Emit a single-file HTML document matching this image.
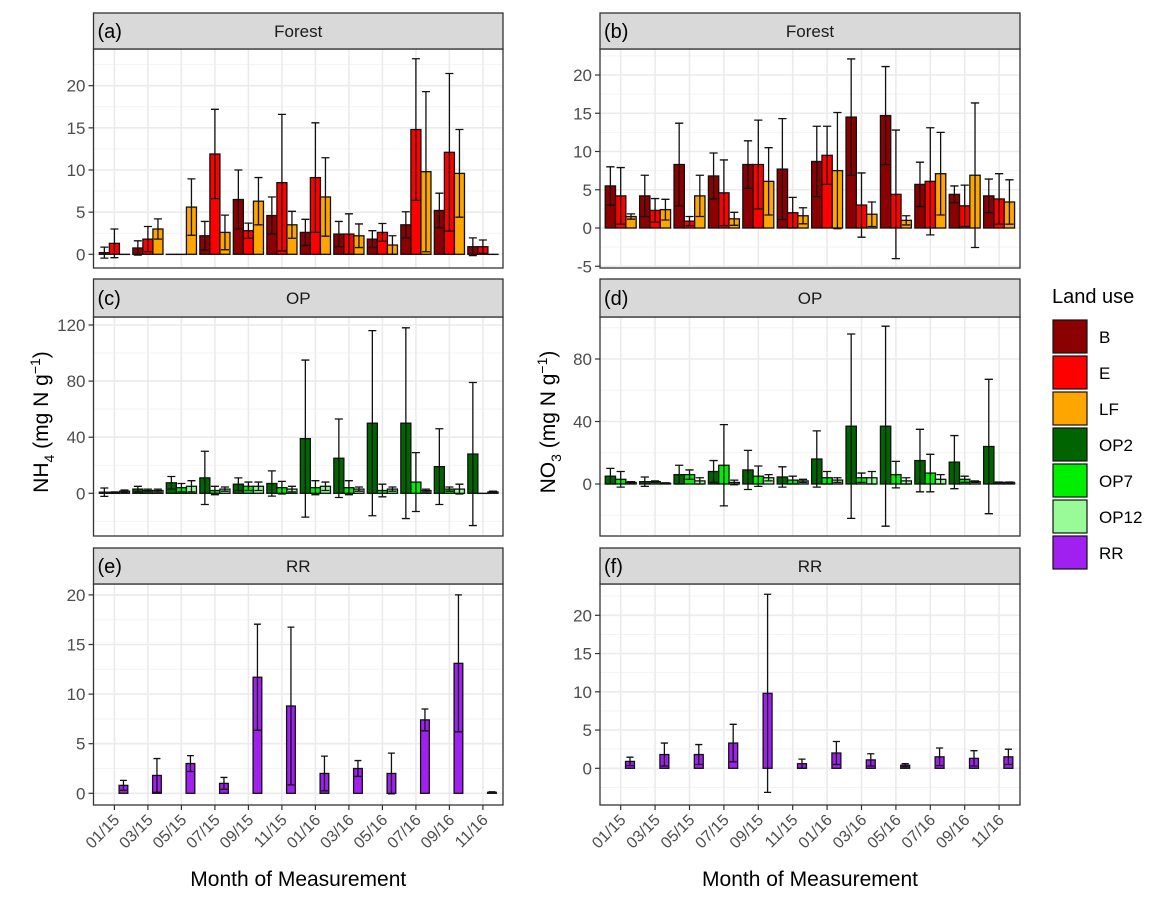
<!DOCTYPE html>
<html><head><meta charset="utf-8"><style>
html,body{margin:0;padding:0;background:#fff;}
svg{display:block;font-family:"Liberation Sans",Arial,sans-serif;}
</style></head><body>
<svg id="chart" width="1160" height="898" viewBox="0 0 1160 898" xmlns="http://www.w3.org/2000/svg"></svg>
<script>
const months = ["01/15","03/15","05/15","07/15","09/15","11/15","01/16","03/16","05/16","07/16","09/16","11/16"];
const colorB="#8b0000", colorE="#ff0000", colorLF="#ffa500", colorOP2="#006400", colorOP7="#00ee00", colorOP12="#98fb98", colorRR="#a020f0";
const legendKeys=["B","E","LF","OP2","OP7","OP12","RR"];
const legendColors=[colorB,colorE,colorLF,colorOP2,colorOP7,colorOP12,colorRR];

// (a) Forest NH4
const aB_mean=[0.2,0.75,0,2.2,6.5,4.6,2.6,2.4,1.8,3.5,5.2,0.9];
const aB_sd=[0.65,0.85,0,1.7,3.5,2.2,1.55,1.5,1.0,1.55,2.05,1.05];
const aE_mean=[1.3,1.8,0,11.9,2.8,8.5,9.1,2.4,2.6,14.8,12.1,0.9];
const aE_sd=[1.7,1.5,0,5.3,0.9,8.1,6.5,2.4,1.05,8.4,9.35,0.8];
const aLF_mean=[0,3.0,5.6,2.6,6.3,3.5,6.8,2.2,1.1,9.8,9.6,0];
const aLF_sd=[0,1.2,3.35,2.05,2.8,1.6,4.65,1.4,1.1,9.5,5.2,0];
// (b) Forest NO3
const bB_mean=[5.5,4.2,8.3,6.8,8.3,7.7,8.7,14.5,14.7,5.7,4.4,4.2];
const bB_sd=[2.5,2.7,5.4,3.0,3.1,6.6,4.6,7.6,6.4,2.9,1.1,2.2];
const bE_mean=[4.2,2.3,0.9,4.6,8.3,2.0,9.5,3.0,4.4,6.1,2.9,3.8];
const bE_sd=[3.7,1.55,0.6,4.3,5.8,2.0,3.8,4.2,8.4,7.0,2.7,3.3];
const bLF_mean=[1.5,2.4,4.2,1.2,6.1,1.6,7.5,1.8,1.0,7.1,6.9,3.4];
const bLF_sd=[0.35,1.35,2.7,0.85,4.4,1.05,7.6,1.6,0.6,5.4,9.45,2.9];
// (c) OP NH4
const cOP2_mean=[0.8,3,7.5,11,6.5,7,39,25,50,50,19,28];
const cOP2_sd=[3,2,4.5,19,4.5,9,56,28,66,68,27,51];
const cOP7_mean=[0.5,2,4,2,5,4,4,4,2,8,3,0];
const cOP7_sd=[0.5,1,3,3,3,4.5,5,5,4.5,21,1.5,0];
const cOP12_mean=[1.5,2,5,3,5,3,5,3,3,2,3,1];
const cOP12_sd=[0.8,1,4,1.5,3,2,3,1.5,1.5,1,3.5,0.5];
// (d) OP NO3
const dOP2_mean=[5,1.5,6,8,9,4.5,16,37,37,15,14,24];
const dOP2_sd=[5,3,6,7,12.5,6.5,18,59,64,20,17,43];
const dOP7_mean=[3,1.5,6,12,5,2.5,4,4,6,7,3,1];
const dOP7_sd=[5,0.5,3,26,6.5,2.5,4,3,8.5,12,2,0.3];
const dOP12_mean=[1,0.5,2,1,4,2,2.5,4,2,3,1.5,1];
const dOP12_sd=[0.5,0.3,2,1.5,2,1,1.5,4,2,3,0.5,0.3];
// (e) RR NH4
const eRR_mean=[0.8,1.8,3.0,1.0,11.7,8.8,2.0,2.5,2.0,7.4,13.1,0.1];
const eRR_sd=[0.5,1.7,0.8,0.6,5.35,7.95,1.75,0.8,2.05,1.1,6.9,0.05];
// (f) RR NO3
const fRR_mean=[0.9,1.8,1.8,3.3,9.8,0.6,2.0,1.1,0.4,1.5,1.3,1.5];
const fRR_sd=[0.55,1.5,1.3,2.45,12.95,0.6,1.5,0.8,0.2,1.15,1.0,1.0];

const ticksA=[0,5,10,15,20], ticksB=[-5,0,5,10,15,20], ticksC=[0,40,80,120], ticksD=[0,40,80], ticksE=[0,5,10,15,20], ticksF=[0,5,10,15,20];

const NS="http://www.w3.org/2000/svg";
const svg=document.getElementById('chart');
function mk(tag,attrs,parent){const e=document.createElementNS(NS,tag);for(const k in attrs)e.setAttribute(k,attrs[k]);(parent||svg).appendChild(e);return e;}

const panels=[
 {tag:"(a)",title:"Forest",x0:93.5,x1:503,st:13,sb:49,pb:268,zero:254.3,ppu:8.43,ticks:ticksA,minor:[2.5,7.5,12.5,17.5,22.5],c0:114.4,step:33.5,
  series:[[aB_mean,aB_sd,colorB],[aE_mean,aE_sd,colorE],[aLF_mean,aLF_sd,colorLF]],name:"forest-nh4"},
 {tag:"(b)",title:"Forest",x0:600,x1:1020,st:13,sb:49,pb:268,zero:228,ppu:7.65,ticks:ticksB,minor:[-2.5,2.5,7.5,12.5,17.5,22.5],c0:620.7,step:34.4,
  series:[[bB_mean,bB_sd,colorB],[bE_mean,bE_sd,colorE],[bLF_mean,bLF_sd,colorLF]],name:"forest-no3"},
 {tag:"(c)",title:"OP",x0:93.5,x1:503,st:279,sb:317,pb:536,zero:493.3,ppu:1.4025,ticks:ticksC,minor:[-20,20,60,100],c0:114.4,step:33.5,
  series:[[cOP2_mean,cOP2_sd,colorOP2],[cOP7_mean,cOP7_sd,colorOP7],[cOP12_mean,cOP12_sd,colorOP12]],name:"op-nh4"},
 {tag:"(d)",title:"OP",x0:600,x1:1020,st:279,sb:317,pb:536,zero:484,ppu:1.5625,ticks:ticksD,minor:[-20,20,60,100],c0:620.7,step:34.4,
  series:[[dOP2_mean,dOP2_sd,colorOP2],[dOP7_mean,dOP7_sd,colorOP7],[dOP12_mean,dOP12_sd,colorOP12]],name:"op-no3"},
 {tag:"(e)",title:"RR",x0:93.5,x1:503,st:548,sb:584,pb:805,zero:793.3,ppu:9.92,ticks:ticksE,minor:[2.5,7.5,12.5,17.5],c0:114.4,step:33.5,
  series:[[eRR_mean,eRR_sd,colorRR]],name:"rr-nh4",xlab:true},
 {tag:"(f)",title:"RR",x0:600,x1:1020,st:548,sb:584,pb:805,zero:768.3,ppu:7.65,ticks:ticksF,minor:[-2.5,2.5,7.5,12.5,17.5,22.5],c0:620.7,step:34.4,
  series:[[fRR_mean,fRR_sd,colorRR]],name:"rr-no3",xlab:true}
];

panels.forEach(p=>{
  const g=mk('g',{});
  
  
  const yS=v=>p.zero-v*p.ppu;
  const xS=i=>p.c0+i*p.step;
  mk('rect',{x:p.x0,y:p.sb,width:p.x1-p.x0,height:p.pb-p.sb,fill:'#fff'},g);
  p.minor.forEach(v=>{const y=yS(v);if(y>p.sb&&y<p.pb){const l=mk('line',{x1:p.x0,x2:p.x1,y1:y,y2:y,stroke:'#f3f3f3','stroke-width':1},g);}});
  p.ticks.forEach(v=>{const y=yS(v);const l=mk('line',{x1:p.x0,x2:p.x1,y1:y,y2:y,stroke:'#ebebeb','stroke-width':1.6},g);});
  months.forEach((m,i)=>{const x=xS(i);const l=mk('line',{x1:x,x2:x,y1:p.sb,y2:p.pb,stroke:'#ebebeb','stroke-width':1.6},g);});
  const n=p.series.length;
  const bw = n===1 ? 0.26*p.step : 0.3*p.step;
  p.series.forEach((s,si)=>{
    const [mean,sd,col]=s;
    const off = n===1 ? 0.27*p.step : (si-1)*0.3*p.step;
    mean.forEach((v,i)=>{
      const cx=xS(i)+off;
      const y0=yS(0), y1=yS(v);
      const r=mk('rect',{x:cx-bw/2,y:Math.min(y0,y1),width:bw,height:Math.max(Math.abs(y0-y1),0.1),fill:col,stroke:'#111','stroke-width':1.3},g);
      
      
    });
    mean.forEach((v,i)=>{
      if(sd[i]<=0) return;
      const cx=xS(i)+off;
      const lo=yS(v-sd[i]), hi=yS(v+sd[i]);
      const hw=bw*0.4;
      const e=mk('path',{d:`M${cx},${lo}V${hi}M${cx-hw},${hi}H${cx+hw}M${cx-hw},${lo}H${cx+hw}`,stroke:'#111','stroke-width':1.3,fill:'none'},g);
      
      
    });
  });
  mk('rect',{x:p.x0,y:p.sb,width:p.x1-p.x0,height:p.pb-p.sb,fill:'none',stroke:'#333','stroke-width':1.3},g);
  const st=mk('rect',{x:p.x0,y:p.st,width:p.x1-p.x0,height:p.sb-p.st,fill:'#d9d9d9',stroke:'#333','stroke-width':1.3},g);
  
  
  const tt=mk('text',{x:(p.x0+p.x1)/2,y:p.st+(p.sb-p.st)/2+6,'text-anchor':'middle','font-size':17,fill:'#1a1a1a'},g);
  tt.textContent=p.title;
  
  
  const tg=mk('text',{x:p.x0+4,y:p.st+(p.sb-p.st)/2+7,'font-size':20,fill:'#000'},g);
  tg.textContent=p.tag;
  
  
  p.ticks.forEach(v=>{
    const y=yS(v);
    mk('line',{x1:p.x0-5,x2:p.x0,y1:y,y2:y,stroke:'#333','stroke-width':1.2},g);
    const t=mk('text',{x:p.x0-8,y:y+6,'text-anchor':'end','font-size':17,fill:'#4d4d4d'},g);
    t.textContent=v;
    
    
  });
  if(p.xlab){
    months.forEach((m,i)=>{
      const x=xS(i);
      mk('line',{x1:x,x2:x,y1:p.pb,y2:p.pb+5,stroke:'#333','stroke-width':1.2},g);
      const t=mk('text',{x:x+6,y:p.pb+16,'text-anchor':'end','font-size':16,fill:'#4d4d4d',transform:`rotate(-45 ${x+6} ${p.pb+16})`},g);
      t.textContent=m;
      
      
    });
    const xt=mk('text',{x:(p.x0+p.x1)/2,y:886,'text-anchor':'middle','font-size':21,fill:'#000'},g);
    xt.textContent='Month of Measurement';
    
    
  }
});

function yTitle(x,y,chem,sub,name){
  const t=mk('text',{x:x,y:y,'text-anchor':'middle','font-size':21,fill:'#000',transform:`rotate(-90 ${x} ${y})`});
  
  
  t.innerHTML=`${chem}<tspan font-size="14" dy="6">${sub}</tspan><tspan dy="-6"> (mg N g</tspan><tspan font-size="14" dy="-8">−1</tspan><tspan dy="8">)</tspan>`;
}
yTitle(48,422,'NH','4','y-axis-title-nh4');
yTitle(555,422,'NO','3','y-axis-title-no3');

const lg=mk('g',{});


const lt=mk('text',{x:1052,y:303,'font-size':20,fill:'#000'},lg);
lt.textContent='Land use';


legendKeys.forEach((k,i)=>{
  const y=319+i*36;
  const r=mk('rect',{x:1053,y:y+1,width:34,height:33,fill:legendColors[i],stroke:'#111','stroke-width':1.2},lg);
  
  
  const t=mk('text',{x:1099,y:y+24,'font-size':17,fill:'#000'},lg);
  t.textContent=k;
  
  
});
</script>
</body></html>
